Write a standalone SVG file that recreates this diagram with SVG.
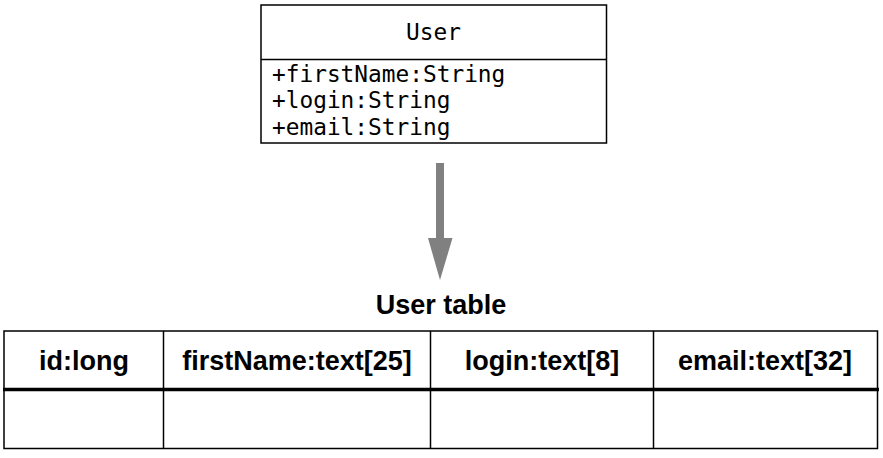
<svg xmlns="http://www.w3.org/2000/svg" width="883" height="458" viewBox="0 0 883 458">
<style>
.mono{font-family:"DejaVu Sans Mono","Liberation Mono",monospace;font-size:22.8px;fill:#000}
.hdr{font-family:"Liberation Sans",Arial,sans-serif;font-weight:bold;font-size:27px;fill:#000;text-anchor:middle}
.ln{stroke:#000;stroke-width:1.5;fill:none}
</style>
<rect width="883" height="458" fill="#fff"/>
<g id="user-class">
<rect class="ln" x="261" y="5" width="345.5" height="138"/>
<line class="ln" x1="261" y1="59.5" x2="606.5" y2="59.5"/>
<text class="mono" x="433.5" y="40" text-anchor="middle">User</text>
<text class="mono" x="272" y="82">+firstName:String</text>
<text class="mono" x="272" y="108">+login:String</text>
<text class="mono" x="272" y="135">+email:String</text>
</g>
<g id="connectors">
<rect x="436" y="163" width="8" height="78" fill="#808080"/>
<polygon points="428,238 452.5,238 440,280" fill="#808080"/>
</g>
<g id="user-table">
<text class="hdr" x="441" y="314">User table</text>
<rect class="ln" x="4" y="331" width="873.5" height="117.5"/>
<line x1="3" y1="389.5" x2="879" y2="389.5" stroke="#000" stroke-width="3.5"/>
<line class="ln" x1="163.5" y1="331" x2="163.5" y2="449"/>
<line class="ln" x1="430.5" y1="331" x2="430.5" y2="449"/>
<line class="ln" x1="653.5" y1="331" x2="653.5" y2="449"/>
<text class="hdr" x="84" y="370">id:long</text>
<text class="hdr" x="297" y="370">firstName:text[25]</text>
<text class="hdr" x="542" y="370">login:text[8]</text>
<text class="hdr" x="765" y="370">email:text[32]</text>
</g>
</svg>
